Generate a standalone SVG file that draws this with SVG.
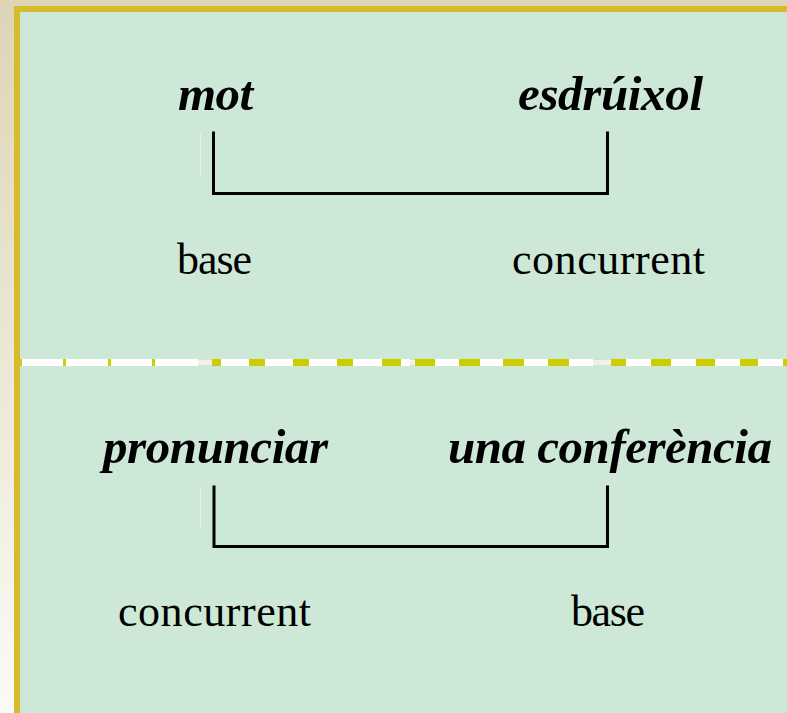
<svg xmlns="http://www.w3.org/2000/svg" width="787" height="713" viewBox="0 0 787 713">
<defs>
<linearGradient id="bg" x1="0" y1="0" x2="0" y2="1">
<stop offset="0" stop-color="#ddd5b5"/>
<stop offset="1" stop-color="#fbfaf6"/>
</linearGradient>
<style>
.term{font-family:"Liberation Serif",serif;font-style:italic;font-weight:bold;font-size:49px;fill:#000;text-anchor:middle}
.role{font-family:"Liberation Serif",serif;font-size:44px;fill:#000;text-anchor:middle}
.br{fill:none;stroke:#000;stroke-width:3;stroke-linecap:square}
.ghost{stroke:#f2ecd6;stroke-width:1}
</style>
</defs>
<rect x="0" y="0" width="787" height="713" fill="url(#bg)"/>
<rect x="14" y="6" width="773" height="707" fill="#d6bc2c"/>
<rect x="20" y="12" width="767" height="701" fill="#cde8d7"/>
<g id="divider">
<path d="M20 362.5H198M212 362.5H410M415 362.5H593M611 362.5H787" stroke="#ffffff" stroke-width="7"/>
<path d="M198 362.5H212M410 362.5H415M593 362.5H611" stroke="#f3f0e8" stroke-width="5"/>
<path d="M20 362.5H22M63 362.5H66M108 362.5H111M152 362.5H155M212 362.5H221M249 362.5H265M293 362.5H309M337 362.5H353M382 362.5H401M415 362.5H435M459 362.5H480M503 362.5H524M548 362.5H569M611 362.5H626M651 362.5H671M696 362.5H715M740 362.5H758M783 362.5H787" stroke="#cdcd00" stroke-width="7"/>
</g>
<g id="mot"><text class="term" x="215.5" y="110" textLength="75">mot</text></g>
<g id="esdruixol"><text class="term" x="610.5" y="110" textLength="185">esdrúixol</text></g>
<g id="base1"><text class="role" x="214.5" y="274" textLength="75">base</text></g>
<g id="concurrent1"><text class="role" x="608.5" y="274" textLength="193">concurrent</text></g>
<g id="pronunciar"><text class="term" x="215.5" y="463" textLength="225">pronunciar</text></g>
<g id="conferencia"><text class="term" x="610" y="463" textLength="324">una conferència</text></g>
<g id="concurrent2"><text class="role" x="214.5" y="626" textLength="193">concurrent</text></g>
<g id="base2"><text class="role" x="608" y="626" textLength="74">base</text></g>
<g id="connectors">
<path class="br" d="M213.5 133V193.5H607.5V133"/>
<path class="br" d="M214 487V546.5H607.5V487"/>
<path class="ghost" d="M200.5 133V176M200.5 486V530"/>
</g>
</svg>
